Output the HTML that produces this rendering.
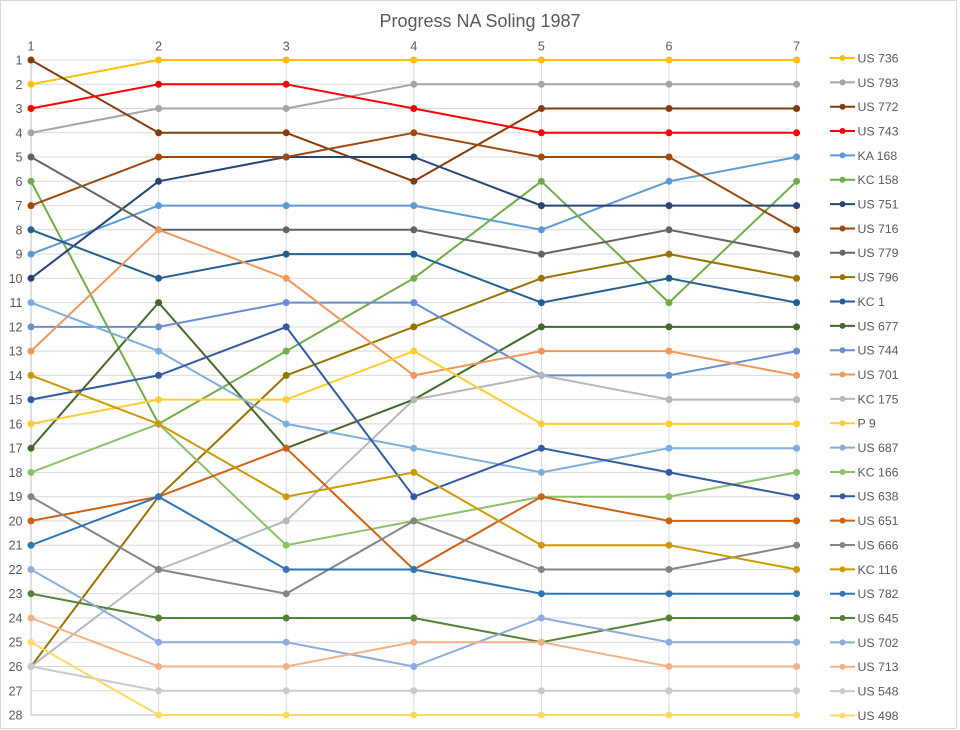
<!DOCTYPE html>
<html>
<head>
<meta charset="utf-8">
<style>
html,body{margin:0;padding:0;background:#fff;}
svg{display:block;font-family:"Liberation Sans",Arial,sans-serif;}
</style>
</head>
<body>
<svg width="960" height="730" viewBox="0 0 960 730" xmlns="http://www.w3.org/2000/svg">
<defs>
<marker id="m1" markerUnits="userSpaceOnUse" markerWidth="9" markerHeight="9" refX="4.5" refY="4.5"><circle cx="4.5" cy="4.5" r="3.5" fill="#FFC000"/></marker>
<marker id="m2" markerUnits="userSpaceOnUse" markerWidth="9" markerHeight="9" refX="4.5" refY="4.5"><circle cx="4.5" cy="4.5" r="3.5" fill="#A5A5A5"/></marker>
<marker id="m3" markerUnits="userSpaceOnUse" markerWidth="9" markerHeight="9" refX="4.5" refY="4.5"><circle cx="4.5" cy="4.5" r="3.5" fill="#843C0C"/></marker>
<marker id="m4" markerUnits="userSpaceOnUse" markerWidth="9" markerHeight="9" refX="4.5" refY="4.5"><circle cx="4.5" cy="4.5" r="3.5" fill="#FF0000"/></marker>
<marker id="m5" markerUnits="userSpaceOnUse" markerWidth="9" markerHeight="9" refX="4.5" refY="4.5"><circle cx="4.5" cy="4.5" r="3.5" fill="#5B9BD5"/></marker>
<marker id="m6" markerUnits="userSpaceOnUse" markerWidth="9" markerHeight="9" refX="4.5" refY="4.5"><circle cx="4.5" cy="4.5" r="3.5" fill="#70AD47"/></marker>
<marker id="m7" markerUnits="userSpaceOnUse" markerWidth="9" markerHeight="9" refX="4.5" refY="4.5"><circle cx="4.5" cy="4.5" r="3.5" fill="#264478"/></marker>
<marker id="m8" markerUnits="userSpaceOnUse" markerWidth="9" markerHeight="9" refX="4.5" refY="4.5"><circle cx="4.5" cy="4.5" r="3.5" fill="#9E480E"/></marker>
<marker id="m9" markerUnits="userSpaceOnUse" markerWidth="9" markerHeight="9" refX="4.5" refY="4.5"><circle cx="4.5" cy="4.5" r="3.5" fill="#636363"/></marker>
<marker id="m10" markerUnits="userSpaceOnUse" markerWidth="9" markerHeight="9" refX="4.5" refY="4.5"><circle cx="4.5" cy="4.5" r="3.5" fill="#997300"/></marker>
<marker id="m11" markerUnits="userSpaceOnUse" markerWidth="9" markerHeight="9" refX="4.5" refY="4.5"><circle cx="4.5" cy="4.5" r="3.5" fill="#255E91"/></marker>
<marker id="m12" markerUnits="userSpaceOnUse" markerWidth="9" markerHeight="9" refX="4.5" refY="4.5"><circle cx="4.5" cy="4.5" r="3.5" fill="#43682B"/></marker>
<marker id="m13" markerUnits="userSpaceOnUse" markerWidth="9" markerHeight="9" refX="4.5" refY="4.5"><circle cx="4.5" cy="4.5" r="3.5" fill="#698ED0"/></marker>
<marker id="m14" markerUnits="userSpaceOnUse" markerWidth="9" markerHeight="9" refX="4.5" refY="4.5"><circle cx="4.5" cy="4.5" r="3.5" fill="#F1975A"/></marker>
<marker id="m15" markerUnits="userSpaceOnUse" markerWidth="9" markerHeight="9" refX="4.5" refY="4.5"><circle cx="4.5" cy="4.5" r="3.5" fill="#B7B7B7"/></marker>
<marker id="m16" markerUnits="userSpaceOnUse" markerWidth="9" markerHeight="9" refX="4.5" refY="4.5"><circle cx="4.5" cy="4.5" r="3.5" fill="#FFCD33"/></marker>
<marker id="m17" markerUnits="userSpaceOnUse" markerWidth="9" markerHeight="9" refX="4.5" refY="4.5"><circle cx="4.5" cy="4.5" r="3.5" fill="#7CAFDD"/></marker>
<marker id="m18" markerUnits="userSpaceOnUse" markerWidth="9" markerHeight="9" refX="4.5" refY="4.5"><circle cx="4.5" cy="4.5" r="3.5" fill="#8CC168"/></marker>
<marker id="m19" markerUnits="userSpaceOnUse" markerWidth="9" markerHeight="9" refX="4.5" refY="4.5"><circle cx="4.5" cy="4.5" r="3.5" fill="#335AA1"/></marker>
<marker id="m20" markerUnits="userSpaceOnUse" markerWidth="9" markerHeight="9" refX="4.5" refY="4.5"><circle cx="4.5" cy="4.5" r="3.5" fill="#D26012"/></marker>
<marker id="m21" markerUnits="userSpaceOnUse" markerWidth="9" markerHeight="9" refX="4.5" refY="4.5"><circle cx="4.5" cy="4.5" r="3.5" fill="#848484"/></marker>
<marker id="m22" markerUnits="userSpaceOnUse" markerWidth="9" markerHeight="9" refX="4.5" refY="4.5"><circle cx="4.5" cy="4.5" r="3.5" fill="#CC9A00"/></marker>
<marker id="m23" markerUnits="userSpaceOnUse" markerWidth="9" markerHeight="9" refX="4.5" refY="4.5"><circle cx="4.5" cy="4.5" r="3.5" fill="#2E75B6"/></marker>
<marker id="m24" markerUnits="userSpaceOnUse" markerWidth="9" markerHeight="9" refX="4.5" refY="4.5"><circle cx="4.5" cy="4.5" r="3.5" fill="#548235"/></marker>
<marker id="m25" markerUnits="userSpaceOnUse" markerWidth="9" markerHeight="9" refX="4.5" refY="4.5"><circle cx="4.5" cy="4.5" r="3.5" fill="#8FAADC"/></marker>
<marker id="m26" markerUnits="userSpaceOnUse" markerWidth="9" markerHeight="9" refX="4.5" refY="4.5"><circle cx="4.5" cy="4.5" r="3.5" fill="#F4B183"/></marker>
<marker id="m27" markerUnits="userSpaceOnUse" markerWidth="9" markerHeight="9" refX="4.5" refY="4.5"><circle cx="4.5" cy="4.5" r="3.5" fill="#C9C9C9"/></marker>
<marker id="m28" markerUnits="userSpaceOnUse" markerWidth="9" markerHeight="9" refX="4.5" refY="4.5"><circle cx="4.5" cy="4.5" r="3.5" fill="#FFD966"/></marker>
</defs>

<rect x="0.5" y="0.5" width="956" height="728" fill="#fff" stroke="#D9D9D9" stroke-width="1"/>

<text x="480" y="27" font-size="18" fill="#595959" text-anchor="middle">Progress NA Soling 1987</text>

<!-- horizontal gridlines -->
<g stroke="#D9D9D9" stroke-width="1">
<line x1="31" x2="796.6" y1="60" y2="60"/>
<line x1="31" x2="796.6" y1="84.3" y2="84.3"/>
<line x1="31" x2="796.6" y1="108.5" y2="108.5"/>
<line x1="31" x2="796.6" y1="132.8" y2="132.8"/>
<line x1="31" x2="796.6" y1="157" y2="157"/>
<line x1="31" x2="796.6" y1="181.3" y2="181.3"/>
<line x1="31" x2="796.6" y1="205.6" y2="205.6"/>
<line x1="31" x2="796.6" y1="229.8" y2="229.8"/>
<line x1="31" x2="796.6" y1="254.1" y2="254.1"/>
<line x1="31" x2="796.6" y1="278.3" y2="278.3"/>
<line x1="31" x2="796.6" y1="302.6" y2="302.6"/>
<line x1="31" x2="796.6" y1="326.9" y2="326.9"/>
<line x1="31" x2="796.6" y1="351.1" y2="351.1"/>
<line x1="31" x2="796.6" y1="375.4" y2="375.4"/>
<line x1="31" x2="796.6" y1="399.6" y2="399.6"/>
<line x1="31" x2="796.6" y1="423.9" y2="423.9"/>
<line x1="31" x2="796.6" y1="448.2" y2="448.2"/>
<line x1="31" x2="796.6" y1="472.4" y2="472.4"/>
<line x1="31" x2="796.6" y1="496.7" y2="496.7"/>
<line x1="31" x2="796.6" y1="520.9" y2="520.9"/>
<line x1="31" x2="796.6" y1="545.2" y2="545.2"/>
<line x1="31" x2="796.6" y1="569.5" y2="569.5"/>
<line x1="31" x2="796.6" y1="593.7" y2="593.7"/>
<line x1="31" x2="796.6" y1="618" y2="618"/>
<line x1="31" x2="796.6" y1="642.2" y2="642.2"/>
<line x1="31" x2="796.6" y1="666.5" y2="666.5"/>
<line x1="31" x2="796.6" y1="690.8" y2="690.8"/>
<!-- vertical -->
<line x1="158.6" x2="158.6" y1="60" y2="715"/>
<line x1="286.2" x2="286.2" y1="60" y2="715"/>
<line x1="413.8" x2="413.8" y1="60" y2="715"/>
<line x1="541.4" x2="541.4" y1="60" y2="715"/>
<line x1="669" x2="669" y1="60" y2="715"/>
<line x1="796.6" x2="796.6" y1="60" y2="715"/>
</g>
<g stroke="#C8C8C8" stroke-width="1.2">
<line x1="31" x2="31" y1="60" y2="715"/>
<line x1="31" x2="796.6" y1="715" y2="715"/>
</g>

<!-- axis labels -->
<g font-size="12.5" fill="#595959" text-anchor="middle">
<text x="31" y="50.5">1</text>
<text x="158.6" y="50.5">2</text>
<text x="286.2" y="50.5">3</text>
<text x="413.8" y="50.5">4</text>
<text x="541.4" y="50.5">5</text>
<text x="669" y="50.5">6</text>
<text x="796.6" y="50.5">7</text>
</g>
<g font-size="12.5" fill="#595959" text-anchor="end">
<text x="22.5" y="64.5">1</text>
<text x="22.5" y="88.8">2</text>
<text x="22.5" y="113">3</text>
<text x="22.5" y="137.3">4</text>
<text x="22.5" y="161.5">5</text>
<text x="22.5" y="185.8">6</text>
<text x="22.5" y="210.1">7</text>
<text x="22.5" y="234.3">8</text>
<text x="22.5" y="258.6">9</text>
<text x="22.5" y="282.8">10</text>
<text x="22.5" y="307.1">11</text>
<text x="22.5" y="331.4">12</text>
<text x="22.5" y="355.6">13</text>
<text x="22.5" y="379.9">14</text>
<text x="22.5" y="404.1">15</text>
<text x="22.5" y="428.4">16</text>
<text x="22.5" y="452.7">17</text>
<text x="22.5" y="476.9">18</text>
<text x="22.5" y="501.2">19</text>
<text x="22.5" y="525.4">20</text>
<text x="22.5" y="549.7">21</text>
<text x="22.5" y="574">22</text>
<text x="22.5" y="598.2">23</text>
<text x="22.5" y="622.5">24</text>
<text x="22.5" y="646.7">25</text>
<text x="22.5" y="671">26</text>
<text x="22.5" y="695.3">27</text>
<text x="22.5" y="719.5">28</text>
</g>

<!-- series -->
<g fill="none" stroke-width="2" stroke-linejoin="round">
<polyline stroke="#FFC000" marker-start="url(#m1)" marker-mid="url(#m1)" marker-end="url(#m1)" points="31,84.3 158.6,60 286.2,60 413.8,60 541.4,60 669,60 796.6,60"/>
<polyline stroke="#A5A5A5" marker-start="url(#m2)" marker-mid="url(#m2)" marker-end="url(#m2)" points="31,132.8 158.6,108.5 286.2,108.5 413.8,84.3 541.4,84.3 669,84.3 796.6,84.3"/>
<polyline stroke="#843C0C" marker-start="url(#m3)" marker-mid="url(#m3)" marker-end="url(#m3)" points="31,60 158.6,132.8 286.2,132.8 413.8,181.3 541.4,108.5 669,108.5 796.6,108.5"/>
<polyline stroke="#FF0000" marker-start="url(#m4)" marker-mid="url(#m4)" marker-end="url(#m4)" points="31,108.5 158.6,84.3 286.2,84.3 413.8,108.5 541.4,132.8 669,132.8 796.6,132.8"/>
<polyline stroke="#5B9BD5" marker-start="url(#m5)" marker-mid="url(#m5)" marker-end="url(#m5)" points="31,254.1 158.6,205.6 286.2,205.6 413.8,205.6 541.4,229.8 669,181.3 796.6,157"/>
<polyline stroke="#70AD47" marker-start="url(#m6)" marker-mid="url(#m6)" marker-end="url(#m6)" points="31,181.3 158.6,423.9 286.2,351.1 413.8,278.3 541.4,181.3 669,302.6 796.6,181.3"/>
<polyline stroke="#264478" marker-start="url(#m7)" marker-mid="url(#m7)" marker-end="url(#m7)" points="31,278.3 158.6,181.3 286.2,157 413.8,157 541.4,205.6 669,205.6 796.6,205.6"/>
<polyline stroke="#9E480E" marker-start="url(#m8)" marker-mid="url(#m8)" marker-end="url(#m8)" points="31,205.6 158.6,157 286.2,157 413.8,132.8 541.4,157 669,157 796.6,229.8"/>
<polyline stroke="#636363" marker-start="url(#m9)" marker-mid="url(#m9)" marker-end="url(#m9)" points="31,157 158.6,229.8 286.2,229.8 413.8,229.8 541.4,254.1 669,229.8 796.6,254.1"/>
<polyline stroke="#997300" marker-start="url(#m10)" marker-mid="url(#m10)" marker-end="url(#m10)" points="31,666.5 158.6,496.7 286.2,375.4 413.8,326.9 541.4,278.3 669,254.1 796.6,278.3"/>
<polyline stroke="#255E91" marker-start="url(#m11)" marker-mid="url(#m11)" marker-end="url(#m11)" points="31,229.8 158.6,278.3 286.2,254.1 413.8,254.1 541.4,302.6 669,278.3 796.6,302.6"/>
<polyline stroke="#43682B" marker-start="url(#m12)" marker-mid="url(#m12)" marker-end="url(#m12)" points="31,448.2 158.6,302.6 286.2,448.2 413.8,399.6 541.4,326.9 669,326.9 796.6,326.9"/>
<polyline stroke="#698ED0" marker-start="url(#m13)" marker-mid="url(#m13)" marker-end="url(#m13)" points="31,326.9 158.6,326.9 286.2,302.6 413.8,302.6 541.4,375.4 669,375.4 796.6,351.1"/>
<polyline stroke="#F1975A" marker-start="url(#m14)" marker-mid="url(#m14)" marker-end="url(#m14)" points="31,351.1 158.6,229.8 286.2,278.3 413.8,375.4 541.4,351.1 669,351.1 796.6,375.4"/>
<polyline stroke="#B7B7B7" marker-start="url(#m15)" marker-mid="url(#m15)" marker-end="url(#m15)" points="31,666.5 158.6,569.5 286.2,520.9 413.8,399.6 541.4,375.4 669,399.6 796.6,399.6"/>
<polyline stroke="#FFCD33" marker-start="url(#m16)" marker-mid="url(#m16)" marker-end="url(#m16)" points="31,423.9 158.6,399.6 286.2,399.6 413.8,351.1 541.4,423.9 669,423.9 796.6,423.9"/>
<polyline stroke="#7CAFDD" marker-start="url(#m17)" marker-mid="url(#m17)" marker-end="url(#m17)" points="31,302.6 158.6,351.1 286.2,423.9 413.8,448.2 541.4,472.4 669,448.2 796.6,448.2"/>
<polyline stroke="#8CC168" marker-start="url(#m18)" marker-mid="url(#m18)" marker-end="url(#m18)" points="31,472.4 158.6,423.9 286.2,545.2 413.8,520.9 541.4,496.7 669,496.7 796.6,472.4"/>
<polyline stroke="#335AA1" marker-start="url(#m19)" marker-mid="url(#m19)" marker-end="url(#m19)" points="31,399.6 158.6,375.4 286.2,326.9 413.8,496.7 541.4,448.2 669,472.4 796.6,496.7"/>
<polyline stroke="#D26012" marker-start="url(#m20)" marker-mid="url(#m20)" marker-end="url(#m20)" points="31,520.9 158.6,496.7 286.2,448.2 413.8,569.5 541.4,496.7 669,520.9 796.6,520.9"/>
<polyline stroke="#848484" marker-start="url(#m21)" marker-mid="url(#m21)" marker-end="url(#m21)" points="31,496.7 158.6,569.5 286.2,593.7 413.8,520.9 541.4,569.5 669,569.5 796.6,545.2"/>
<polyline stroke="#CC9A00" marker-start="url(#m22)" marker-mid="url(#m22)" marker-end="url(#m22)" points="31,375.4 158.6,423.9 286.2,496.7 413.8,472.4 541.4,545.2 669,545.2 796.6,569.5"/>
<polyline stroke="#2E75B6" marker-start="url(#m23)" marker-mid="url(#m23)" marker-end="url(#m23)" points="31,545.2 158.6,496.7 286.2,569.5 413.8,569.5 541.4,593.7 669,593.7 796.6,593.7"/>
<polyline stroke="#548235" marker-start="url(#m24)" marker-mid="url(#m24)" marker-end="url(#m24)" points="31,593.7 158.6,618 286.2,618 413.8,618 541.4,642.2 669,618 796.6,618"/>
<polyline stroke="#8FAADC" marker-start="url(#m25)" marker-mid="url(#m25)" marker-end="url(#m25)" points="31,569.5 158.6,642.2 286.2,642.2 413.8,666.5 541.4,618 669,642.2 796.6,642.2"/>
<polyline stroke="#F4B183" marker-start="url(#m26)" marker-mid="url(#m26)" marker-end="url(#m26)" points="31,618 158.6,666.5 286.2,666.5 413.8,642.2 541.4,642.2 669,666.5 796.6,666.5"/>
<polyline stroke="#C9C9C9" marker-start="url(#m27)" marker-mid="url(#m27)" marker-end="url(#m27)" points="31,666.5 158.6,690.8 286.2,690.8 413.8,690.8 541.4,690.8 669,690.8 796.6,690.8"/>
<polyline stroke="#FFD966" marker-start="url(#m28)" marker-mid="url(#m28)" marker-end="url(#m28)" points="31,642.2 158.6,715 286.2,715 413.8,715 541.4,715 669,715 796.6,715"/>
</g>

<!-- legend -->
<g font-size="12.3" fill="#595959" stroke-width="2">
<g transform="translate(0,58)"><line x1="830" x2="855" y1="0" y2="0" stroke="#FFC000"/><circle cx="842.5" cy="0" r="3" fill="#FFC000"/><text x="857.5" y="4.4">US 736</text></g>
<g transform="translate(0,82.35)"><line x1="830" x2="855" y1="0" y2="0" stroke="#A5A5A5"/><circle cx="842.5" cy="0" r="3" fill="#A5A5A5"/><text x="857.5" y="4.4">US 793</text></g>
<g transform="translate(0,106.7)"><line x1="830" x2="855" y1="0" y2="0" stroke="#843C0C"/><circle cx="842.5" cy="0" r="3" fill="#843C0C"/><text x="857.5" y="4.4">US 772</text></g>
<g transform="translate(0,131.05)"><line x1="830" x2="855" y1="0" y2="0" stroke="#FF0000"/><circle cx="842.5" cy="0" r="3" fill="#FF0000"/><text x="857.5" y="4.4">US 743</text></g>
<g transform="translate(0,155.4)"><line x1="830" x2="855" y1="0" y2="0" stroke="#5B9BD5"/><circle cx="842.5" cy="0" r="3" fill="#5B9BD5"/><text x="857.5" y="4.4">KA 168</text></g>
<g transform="translate(0,179.75)"><line x1="830" x2="855" y1="0" y2="0" stroke="#70AD47"/><circle cx="842.5" cy="0" r="3" fill="#70AD47"/><text x="857.5" y="4.4">KC 158</text></g>
<g transform="translate(0,204.1)"><line x1="830" x2="855" y1="0" y2="0" stroke="#264478"/><circle cx="842.5" cy="0" r="3" fill="#264478"/><text x="857.5" y="4.4">US 751</text></g>
<g transform="translate(0,228.45)"><line x1="830" x2="855" y1="0" y2="0" stroke="#9E480E"/><circle cx="842.5" cy="0" r="3" fill="#9E480E"/><text x="857.5" y="4.4">US 716</text></g>
<g transform="translate(0,252.8)"><line x1="830" x2="855" y1="0" y2="0" stroke="#636363"/><circle cx="842.5" cy="0" r="3" fill="#636363"/><text x="857.5" y="4.4">US 779</text></g>
<g transform="translate(0,277.15)"><line x1="830" x2="855" y1="0" y2="0" stroke="#997300"/><circle cx="842.5" cy="0" r="3" fill="#997300"/><text x="857.5" y="4.4">US 796</text></g>
<g transform="translate(0,301.5)"><line x1="830" x2="855" y1="0" y2="0" stroke="#255E91"/><circle cx="842.5" cy="0" r="3" fill="#255E91"/><text x="857.5" y="4.4">KC 1</text></g>
<g transform="translate(0,325.85)"><line x1="830" x2="855" y1="0" y2="0" stroke="#43682B"/><circle cx="842.5" cy="0" r="3" fill="#43682B"/><text x="857.5" y="4.4">US 677</text></g>
<g transform="translate(0,350.2)"><line x1="830" x2="855" y1="0" y2="0" stroke="#698ED0"/><circle cx="842.5" cy="0" r="3" fill="#698ED0"/><text x="857.5" y="4.4">US 744</text></g>
<g transform="translate(0,374.55)"><line x1="830" x2="855" y1="0" y2="0" stroke="#F1975A"/><circle cx="842.5" cy="0" r="3" fill="#F1975A"/><text x="857.5" y="4.4">US 701</text></g>
<g transform="translate(0,398.9)"><line x1="830" x2="855" y1="0" y2="0" stroke="#B7B7B7"/><circle cx="842.5" cy="0" r="3" fill="#B7B7B7"/><text x="857.5" y="4.4">KC 175</text></g>
<g transform="translate(0,423.25)"><line x1="830" x2="855" y1="0" y2="0" stroke="#FFCD33"/><circle cx="842.5" cy="0" r="3" fill="#FFCD33"/><text x="857.5" y="4.4">P 9</text></g>
<g transform="translate(0,447.6)"><line x1="830" x2="855" y1="0" y2="0" stroke="#7CAFDD"/><circle cx="842.5" cy="0" r="3" fill="#7CAFDD"/><text x="857.5" y="4.4">US 687</text></g>
<g transform="translate(0,471.95)"><line x1="830" x2="855" y1="0" y2="0" stroke="#8CC168"/><circle cx="842.5" cy="0" r="3" fill="#8CC168"/><text x="857.5" y="4.4">KC 166</text></g>
<g transform="translate(0,496.3)"><line x1="830" x2="855" y1="0" y2="0" stroke="#335AA1"/><circle cx="842.5" cy="0" r="3" fill="#335AA1"/><text x="857.5" y="4.4">US 638</text></g>
<g transform="translate(0,520.65)"><line x1="830" x2="855" y1="0" y2="0" stroke="#D26012"/><circle cx="842.5" cy="0" r="3" fill="#D26012"/><text x="857.5" y="4.4">US 651</text></g>
<g transform="translate(0,545)"><line x1="830" x2="855" y1="0" y2="0" stroke="#848484"/><circle cx="842.5" cy="0" r="3" fill="#848484"/><text x="857.5" y="4.4">US 666</text></g>
<g transform="translate(0,569.35)"><line x1="830" x2="855" y1="0" y2="0" stroke="#CC9A00"/><circle cx="842.5" cy="0" r="3" fill="#CC9A00"/><text x="857.5" y="4.4">KC 116</text></g>
<g transform="translate(0,593.7)"><line x1="830" x2="855" y1="0" y2="0" stroke="#2E75B6"/><circle cx="842.5" cy="0" r="3" fill="#2E75B6"/><text x="857.5" y="4.4">US 782</text></g>
<g transform="translate(0,618.05)"><line x1="830" x2="855" y1="0" y2="0" stroke="#548235"/><circle cx="842.5" cy="0" r="3" fill="#548235"/><text x="857.5" y="4.4">US 645</text></g>
<g transform="translate(0,642.4)"><line x1="830" x2="855" y1="0" y2="0" stroke="#8FAADC"/><circle cx="842.5" cy="0" r="3" fill="#8FAADC"/><text x="857.5" y="4.4">US 702</text></g>
<g transform="translate(0,666.75)"><line x1="830" x2="855" y1="0" y2="0" stroke="#F4B183"/><circle cx="842.5" cy="0" r="3" fill="#F4B183"/><text x="857.5" y="4.4">US 713</text></g>
<g transform="translate(0,691.1)"><line x1="830" x2="855" y1="0" y2="0" stroke="#C9C9C9"/><circle cx="842.5" cy="0" r="3" fill="#C9C9C9"/><text x="857.5" y="4.4">US 548</text></g>
<g transform="translate(0,715.45)"><line x1="830" x2="855" y1="0" y2="0" stroke="#FFD966"/><circle cx="842.5" cy="0" r="3" fill="#FFD966"/><text x="857.5" y="4.4">US 498</text></g>
</g>
</svg>
</body>
</html>
